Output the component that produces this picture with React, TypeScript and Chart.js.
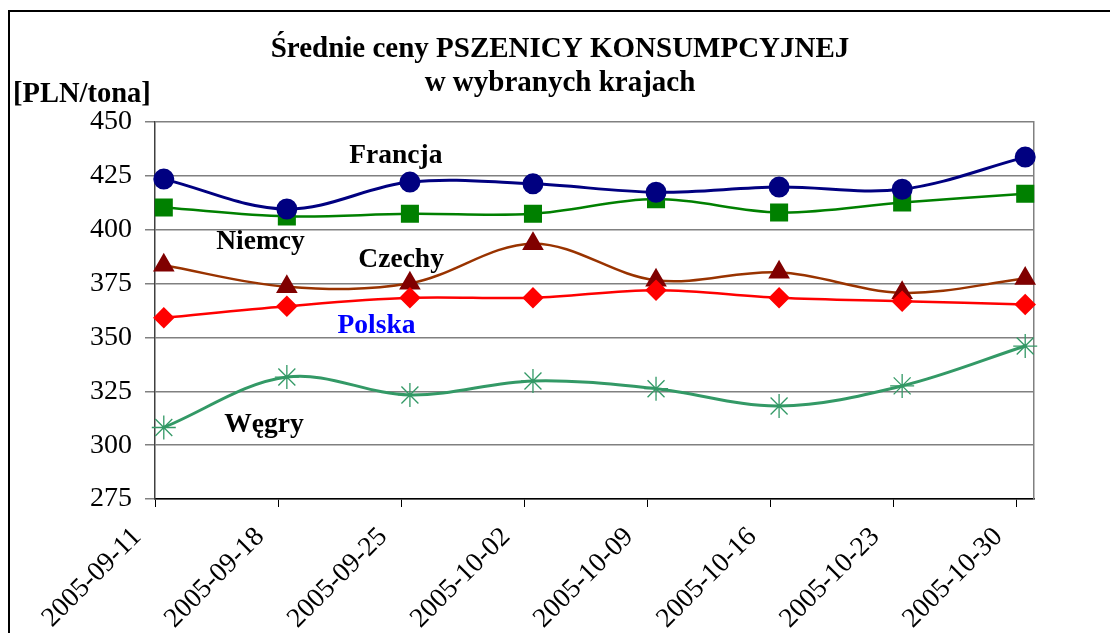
import React, { useEffect, useRef } from "react";
import { Chart, registerables } from "chart.js";

Chart.register(...registerables);

// ---- data ----
const dates = [
  "2005-09-11",
  "2005-09-18",
  "2005-09-25",
  "2005-10-02",
  "2005-10-09",
  "2005-10-16",
  "2005-10-23",
  "2005-10-30",
];
const axisEndDate = "2005-10-31";

const francja = [423.5, 409.6, 422.1, 421.3, 417.4, 419.8, 418.8, 433.7];
const niemcy = [410.3, 406.2, 407.4, 407.4, 414.2, 408.0, 412.6, 416.7];
const polska = [359.1, 364.5, 368.4, 368.4, 371.9, 368.4, 366.8, 365.3];
const czechy = [383.5, 373.5, 375.1, 393.5, 376.5, 380.2, 370.7, 377.3];
const wegry = [308.2, 331.6, 323.3, 329.8, 326.2, 318.2, 327.5, 346.0];

const yTicks = [275, 300, 325, 350, 375, 400, 425, 450];

const titleLines = ["Średnie ceny PSZENICY KONSUMPCYJNEJ", "w wybranych krajach"];
const unitLabel = "[PLN/tona]";

// series name annotations, placed in data coordinates (day offset, value)
const seriesNames = ["Francja", "Niemcy", "Czechy", "Polska", "Węgry"];
const seriesNameColors = ["#000000", "#000000", "#000000", "#0000FF", "#000000"];
const seriesNameDays = [13.7, 6.0, 14.0, 12.6, 6.2];
const seriesNameValues = [431, 391.2, 382.9, 351.9, 306];

const FONT = '"Liberation Serif", "Times New Roman", serif';
const DAY = 86400000;
const dayOffset = (d: string) => (Date.parse(d) - Date.parse(dates[0])) / DAY;
const tickOffsets = dates.map(dayOffset);
// Excel date axis "between dates": each point sits in the middle of its day
const pointX = tickOffsets.map((o) => o + 0.5);
const toPoints = (vals: number[]) => vals.map((v, i) => ({ x: pointX[i], y: v }));

const annotationsPlugin = {
  id: "annotations",
  afterDatasetsDraw(chart: any) {
    const { ctx, chartArea, scales } = chart;
    ctx.save();
    // series names
    ctx.font = `bold 27.5px ${FONT}`;
    ctx.textAlign = "center";
    ctx.textBaseline = "alphabetic";
    seriesNames.forEach((name, i) => {
      ctx.fillStyle = seriesNameColors[i];
      ctx.fillText(
        name,
        scales.x.getPixelForValue(seriesNameDays[i]),
        scales.y.getPixelForValue(seriesNameValues[i])
      );
    });
    // unit label
    ctx.font = `bold 28.5px ${FONT}`;
    ctx.textAlign = "left";
    ctx.fillStyle = "#000";
    ctx.fillText(unitLabel, chartArea.left - 142, chartArea.top - 20);
    ctx.restore();
  },
};

export default function App() {
  const ref = useRef<HTMLCanvasElement>(null);

  useEffect(() => {
    if (!ref.current) return;
    const common = { tension: 0.35, clip: false as any, pointHoverRadius: 0 };
    const chart = new Chart(ref.current, {
      type: "line",
      data: {
        datasets: [
          {
            label: "Francja",
            data: toPoints(francja),
            borderColor: "#000080",
            borderWidth: 3,
            pointStyle: "circle",
            pointRadius: 9,
            pointBackgroundColor: "#000080",
            pointBorderColor: "#000080",
            ...common,
          },
          {
            label: "Niemcy",
            data: toPoints(niemcy),
            borderColor: "#008000",
            borderWidth: 2.5,
            pointStyle: "rect",
            pointRadius: 11,
            pointBackgroundColor: "#008000",
            pointBorderColor: "#008000",
            ...common,
          },
          {
            label: "Polska",
            data: toPoints(polska),
            borderColor: "#FF0000",
            borderWidth: 2.5,
            pointStyle: "rectRot",
            pointRadius: 9,
            pointBackgroundColor: "#FF0000",
            pointBorderColor: "#FF0000",
            ...common,
          },
          {
            label: "Czechy",
            data: toPoints(czechy),
            borderColor: "#993300",
            borderWidth: 2.5,
            pointStyle: "triangle",
            pointRadius: 10,
            pointBackgroundColor: "#800000",
            pointBorderColor: "#800000",
            ...common,
          },
          {
            label: "Węgry",
            data: toPoints(wegry),
            borderColor: "#339966",
            borderWidth: 3,
            pointStyle: "star",
            pointRadius: 12,
            pointBorderWidth: 1.3,
            pointBackgroundColor: "#339966",
            pointBorderColor: "#339966",
            ...common,
          },
        ],
      },
      options: {
        animation: false,
        responsive: false,
        events: [],
        layout: { padding: 0 },
        plugins: {
          legend: { display: false },
          tooltip: { enabled: false },
          title: {
            display: true,
            text: titleLines,
            color: "#000",
            font: { family: FONT, size: 29, weight: "bold", lineHeight: 34 / 29 },
            padding: { top: 21, bottom: 21 },
          },
        },
        scales: {
          x: {
            type: "linear",
            min: 0,
            max: dayOffset(axisEndDate),
            afterBuildTicks: (s: any) => {
              s.ticks = tickOffsets.map((v) => ({ value: v }));
            },
            afterFit: (s: any) => {
              s.height = 134;
            },
            ticks: {
              autoSkip: false,
              minRotation: 45,
              maxRotation: 45,
              padding: 14,
              labelOffset: -18,
              color: "#000",
              font: { family: FONT, size: 27.5 },
              callback: (v: any) => {
                const i = tickOffsets.indexOf(Number(v));
                return i >= 0 ? dates[i] : "";
              },
            },
            grid: {
              display: true,
              drawOnChartArea: false,
              drawTicks: true,
              tickLength: 8,
              color: "#000",
              lineWidth: 1,
            },
            border: { display: true, color: "#000", width: 1.5 },
          },
          y: {
            min: yTicks[0],
            max: yTicks[yTicks.length - 1],
            afterBuildTicks: (s: any) => {
              s.ticks = yTicks.map((v) => ({ value: v }));
            },
            afterFit: (s: any) => {
              s.width = 145;
            },
            ticks: {
              padding: 13,
              color: "#000",
              font: { family: FONT, size: 28 },
            },
            grid: {
              color: "#808080",
              lineWidth: 1.5,
              tickLength: 10,
              drawTicks: true,
            },
            border: { display: true, color: "#404040", width: 1.5 },
          },
          yRight: {
            type: "linear",
            position: "right",
            display: true,
            min: yTicks[0],
            max: yTicks[yTicks.length - 1],
            afterFit: (s: any) => {
              s.width = 76;
            },
            ticks: { display: false },
            grid: { display: true, drawOnChartArea: false, drawTicks: false },
            border: { display: true, color: "#808080", width: 1.5 },
          },
        },
      } as any,
      plugins: [annotationsPlugin],
    });
    return () => chart.destroy();
  }, []);

  return (
    <div
      style={{
        position: "absolute",
        left: 8,
        top: 10,
        borderLeft: "2px solid #000",
        borderTop: "2px solid #000",
        width: 1100,
        height: 621,
        overflow: "hidden",
      }}
    >
      <canvas ref={ref} width={1100} height={621} style={{ display: "block" }} />
    </div>
  );
}
